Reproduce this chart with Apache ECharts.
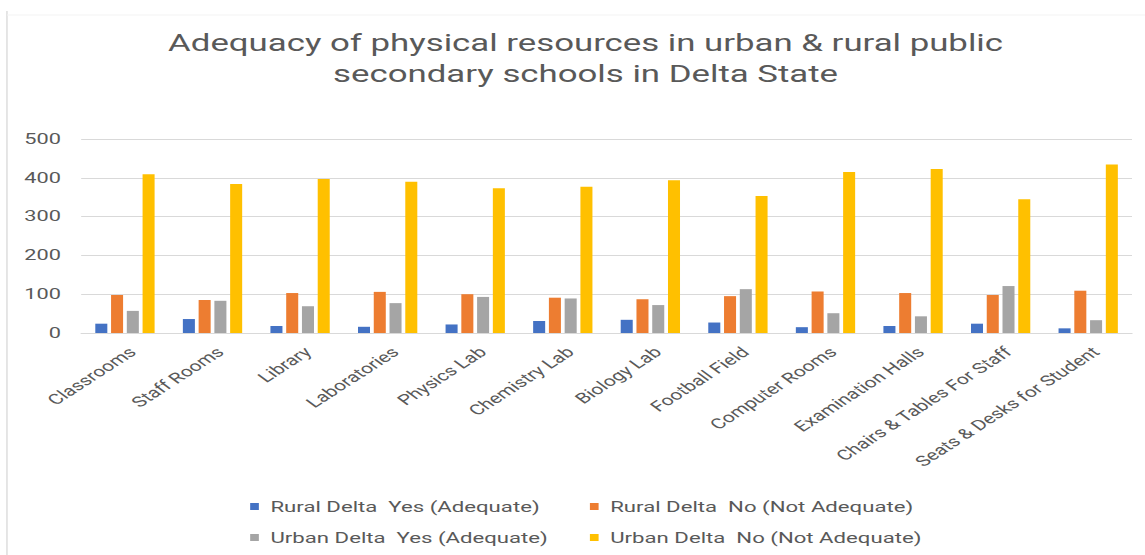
<!DOCTYPE html>
<html><head><meta charset="utf-8">
<script src="https://cdn.jsdelivr.net/npm/echarts@6/dist/echarts.min.js"></script>
<style>
html,body{margin:0;padding:0;background:#fff;overflow:hidden;width:1145px;height:555px}
#c{width:790px;height:555px;transform:scaleX(1.4494);transform-origin:0 0}
</style>
</head><body><div id="c"></div>
<script>
const categories = ['Classrooms','Staff Rooms','Library','Laboratories','Physics Lab','Chemistry Lab','Biology Lab','Football Field','Computer Rooms','Examination Halls','Chairs & Tables For Staff','Seats & Desks for Student'];
const seriesNames = ['Rural Delta  Yes (Adequate)','Rural Delta  No (Not Adequate)','Urban Delta  Yes (Adequate)','Urban Delta  No (Not Adequate)'];
const ruralYes = [24, 36, 18, 16, 22, 31, 34, 27, 15, 18, 24, 12];
const ruralNo = [98, 85, 103, 106, 100, 91, 87, 95, 107, 103, 98, 109];
const urbanYes = [57, 83, 69, 77, 93, 89, 72, 113, 51, 43, 121, 33];
const urbanNo = [409, 384, 397, 390, 373, 377, 394, 353, 415, 423, 345, 434];
const yTicks = [0, 100, 200, 300, 400, 500];
const colors = ['#4472C4','#ED7D31','#A5A5A5','#FFC000'];
const txt = '#595959';
const FONT = 'Roboto';
const chart = echarts.init(document.getElementById('c'), null, {renderer: 'svg'});
const vals = [ruralYes, ruralNo, urbanYes, urbanNo];
const legendCommon = {
  orient: 'vertical', top: 494, itemGap: 16, itemWidth: 6, itemHeight: 7, icon: 'rect',
  textStyle: {fontFamily: FONT, fontSize: 15.3, lineHeight: 15, color: txt, padding: [0, 0, 0, 3]}
};
chart.setOption({
  animation: false,
  title: {
    text: 'Adequacy of physical resources in urban & rural public\nsecondary schools in Delta State',
    left: 399, top: 22, textAlign: 'center',
    textStyle: {fontFamily: FONT, fontSize: 24, fontWeight: 'normal', color: txt, lineHeight: 31}
  },
  graphic: [
    {type:'line', shape:{x1:4.8,y1:11,x2:4.8,y2:555}, style:{stroke:'#dcdcdc', lineWidth:1}},
    {type:'line', shape:{x1:4.8,y1:15,x2:790,y2:15}, style:{stroke:'#f4f4f4', lineWidth:1}}
  ],
  legend: [
    Object.assign({data: [seriesNames[0], seriesNames[2]], left: 167.6}, legendCommon),
    Object.assign({data: [seriesNames[1], seriesNames[3]], left: 402}, legendCommon)
  ],
  grid: {left: 56, right: 9, top: 139, bottom: 222, containLabel: false},
  xAxis: {
    type: 'category', data: categories,
    axisLine: {lineStyle: {color: '#d9d9d9'}}, axisTick: {show: false},
    axisLabel: {rotate: 43, interval: 0, fontFamily: FONT, fontSize: 14.5, color: txt, margin: 11, verticalAlign: 'top'}
  },
  yAxis: {
    type: 'value', min: yTicks[0], max: yTicks[yTicks.length-1], interval: 100,
    axisLine: {show: false}, axisTick: {show: false},
    splitLine: {lineStyle: {color: '#d9d9d9'}},
    axisLabel: {fontFamily: FONT, fontSize: 15, color: txt, margin: 14}
  },
  series: seriesNames.map((n, i) => ({
    name: n, type: 'bar', data: vals[i], barWidth: 8.3, barGap: '31%',
    itemStyle: {color: colors[i]}
  }))
});
</script></body></html>
